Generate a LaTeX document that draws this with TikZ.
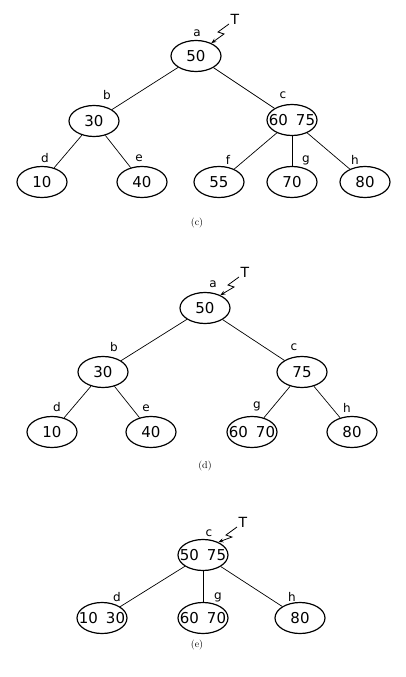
\documentclass[tikz,border=0pt]{standalone}
\usepackage{fontspec}
\setsansfont{DejaVu Sans}
\usetikzlibrary{shapes.geometric,arrows.meta}
\begin{document}
\begin{tikzpicture}[x=1pt,y=-1pt,
  nd/.style={ellipse,draw,line width=1.2pt,minimum width=50pt,minimum height=31pt,inner sep=0pt,
    font=\sffamily\fontsize{15}{15}\selectfont},
  lb/.style={font=\sffamily\fontsize{12}{12}\selectfont,inner sep=0pt},
  tlb/.style={font=\sffamily\fontsize{14}{14}\selectfont,inner sep=0pt},
  ed/.style={line width=0.7pt},
  ptr/.style={line width=0.8pt,-{Stealth[length=5pt,width=4pt]}},
  captxt/.style={font=\fontsize{10}{10}\selectfont,inner sep=0pt}
]
\newcommand{\two}[2]{\makebox[0pt][c]{#1\hspace{8pt}#2}}
\useasboundingbox (0,0) rectangle (405,677);
% ---------- panel (c)
\node[nd] (ca) at (196,56) {50};
\node[nd] (cb) at (94,121) {30};
\node[nd] (cc) at (292,120) {\two{60}{75}};
\node[nd] (cd) at (42,182) {10};
\node[nd] (ce) at (142,182) {40};
\node[nd] (cf) at (219,182) {55};
\node[nd] (cg) at (292,182) {70};
\node[nd] (ch) at (365,182) {80};
\node[lb] (cla) at (197,33) {a};
\node[lb] (clb) at (107,95) {b};
\node[lb] (clc) at (283,95) {c};
\node[lb] (cld) at (45,158) {d};
\node[lb] (cle) at (139,158) {e};
\node[lb] (clf) at (228,160) {f};
\node[lb] (clg) at (306,160) {g};
\node[lb] (clh) at (355,160) {h};
\node[tlb] (cT) at (235,19) {T};
\coordinate (cTs) at (229,24);
\draw[ed] (ca) -- (cb);
\draw[ed] (ca) -- (cc);
\draw[ed] (cb) -- (cd);
\draw[ed] (cb) -- (ce);
\draw[ed] (cc) -- (cf);
\draw[ed] (cc) -- (cg);
\draw[ed] (cc) -- (ch);
\draw[ptr] (cTs) -- ++(-11,8) -- ++(6,2) -- (ca.40);
\node[captxt] (ccap) at (197,223) {(c)};
% ---------- panel (d)
\node[nd] (da) at (205,308) {50};
\node[nd] (db) at (103,372) {30};
\node[nd] (dc) at (302,372) {75};
\node[nd] (dd) at (52,432) {10};
\node[nd] (de) at (151,432) {40};
\node[nd] (dg) at (252,432) {\two{60}{70}};
\node[nd] (dh) at (352,432) {80};
\node[lb] (dla) at (213,284) {a};
\node[lb] (dlb) at (114,347) {b};
\node[lb] (dlc) at (294,347) {c};
\node[lb] (dld) at (57,407) {d};
\node[lb] (dle) at (146,408) {e};
\node[lb] (dlg) at (257,406) {g};
\node[lb] (dlh) at (347,408) {h};
\node[tlb] (dT) at (245,272) {T};
\coordinate (dTs) at (239,277);
\draw[ed] (da) -- (db);
\draw[ed] (da) -- (dc);
\draw[ed] (db) -- (dd);
\draw[ed] (db) -- (de);
\draw[ed] (dc) -- (dg);
\draw[ed] (dc) -- (dh);
\draw[ptr] (dTs) -- ++(-11,8) -- ++(6,2) -- (da.40);
\node[captxt] (dcap) at (205,466) {(d)};
% ---------- panel (e)
\node[nd] (ec) at (203,555) {\two{50}{75}};
\node[nd] (ed) at (102,618) {\two{10}{30}};
\node[nd] (eg) at (203,618) {\two{60}{70}};
\node[nd] (eh) at (300,618) {80};
\node[lb] (elc) at (209,533) {c};
\node[lb] (eld) at (117,597) {d};
\node[lb] (elg) at (218,597) {g};
\node[lb] (elh) at (292,597) {h};
\node[tlb] (eT) at (243,522) {T};
\coordinate (eTs) at (237,527);
\draw[ed] (ec) -- (ed);
\draw[ed] (ec) -- (eg);
\draw[ed] (ec) -- (eh);
\draw[ptr] (eTs) -- ++(-11,8) -- ++(6,2) -- (ec.40);
\node[captxt] (ecap) at (197,645) {(e)};
\end{tikzpicture}
\end{document}
